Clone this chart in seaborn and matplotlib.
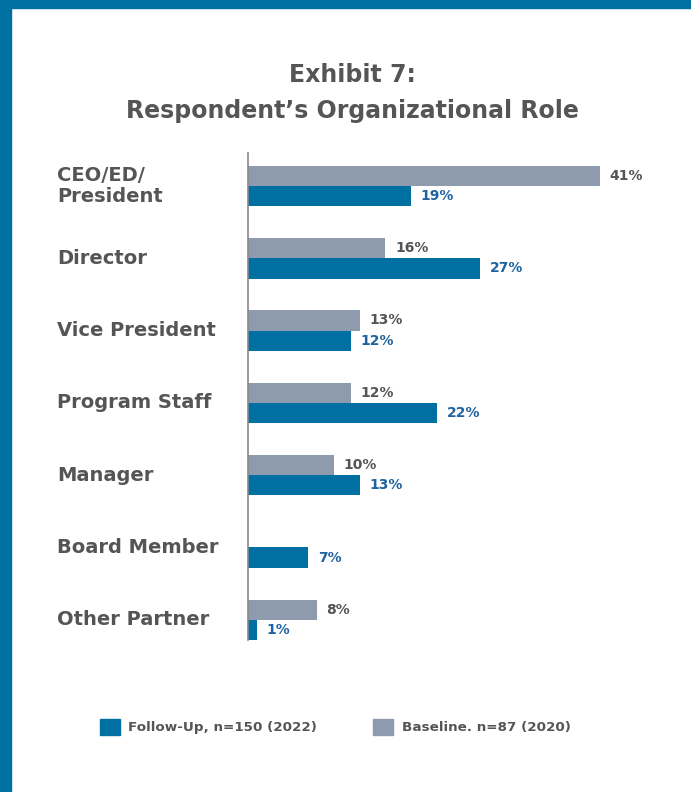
import numpy as np
import pandas as pd
import matplotlib.pyplot as plt
import seaborn as sns
from matplotlib.patches import Rectangle, Patch

# Data
roles = ["CEO/ED/\nPresident", "Director", "Vice President", "Program Staff",
         "Manager", "Board Member", "Other Partner"]
baseline = [41, 16, 13, 12, 10, np.nan, 8]
followup = [19, 27, 12, 22, 13, 7, 1]
series = ["Baseline. n=87 (2020)", "Follow-Up, n=150 (2022)"]

blue = "#006FA1"
gray = "#8E9AAD"
text_gray = "#555555"
label_blue = "#1F62A0"

df = pd.DataFrame({
    "role": roles * 2,
    "value": baseline + followup,
    "series": [series[0]] * len(roles) + [series[1]] * len(roles),
})

sns.set_style("white")
plt.rcParams["font.family"] = ["DejaVu Sans"]

fig = plt.figure(figsize=(6.91, 7.92), dpi=100)
ax = fig.add_axes([248 / 691, 1 - 640 / 792, (630 - 248) / 691, (640 - 153) / 792])

sns.barplot(data=df, x="value", y="role", hue="series", hue_order=series,
            palette=[gray, blue], orient="h", width=0.56, saturation=1,
            linewidth=0, ax=ax, legend=False)

ax.set_xlim(0, 44.5)
ax.set_ylim(6.28, -0.456)
ax.set_xlabel("")
ax.set_ylabel("")
ax.set_xticks([])
ax.set_yticks([])
for s in ["top", "right", "bottom"]:
    ax.spines[s].set_visible(False)
ax.spines["left"].set_color("#888888")
ax.spines["left"].set_linewidth(1.2)

# value labels
for cont, col in zip(ax.containers, [text_gray, label_blue]):
    labels = ["" if np.isnan(v) else f"{v:.0f}%" for v in cont.datavalues]
    ax.bar_label(cont, labels=labels, padding=7, color=col,
                 fontsize=10, fontweight="bold")

# category labels at left
for i, r in enumerate(roles):
    ax.text(-191 / 8.58, i, r, ha="left", va="center", fontsize=14,
            fontweight="bold", color=text_gray, linespacing=1.15)

# title
fig.text(352 / 691, 1 - 93 / 792, "Exhibit 7:\nRespondent\u2019s Organizational Role",
         ha="center", va="center", fontsize=17, fontweight="bold",
         color=text_gray, linespacing=1.65)

# legend
handles = [Patch(color=blue, label=series[1]), Patch(color=gray, label=series[0])]
leg = fig.legend(handles=handles, loc="center", bbox_to_anchor=(335 / 691, 1 - 727 / 792),
                 ncol=2, frameon=False, handlelength=1.5, handleheight=1.5,
                 columnspacing=4.2, handletextpad=0.6,
                 prop={"size": 9.7, "weight": "bold"})
for t in leg.get_texts():
    t.set_color(text_gray)

# frame accents
fig.patches.append(Rectangle((0, 0), 11 / 691, 1, transform=fig.transFigure,
                             color=blue, zorder=0))
fig.patches.append(Rectangle((0, 1 - 8 / 792), 1, 8 / 792, transform=fig.transFigure,
                             color=blue, zorder=0))

fig.savefig("out.png", dpi=100)
